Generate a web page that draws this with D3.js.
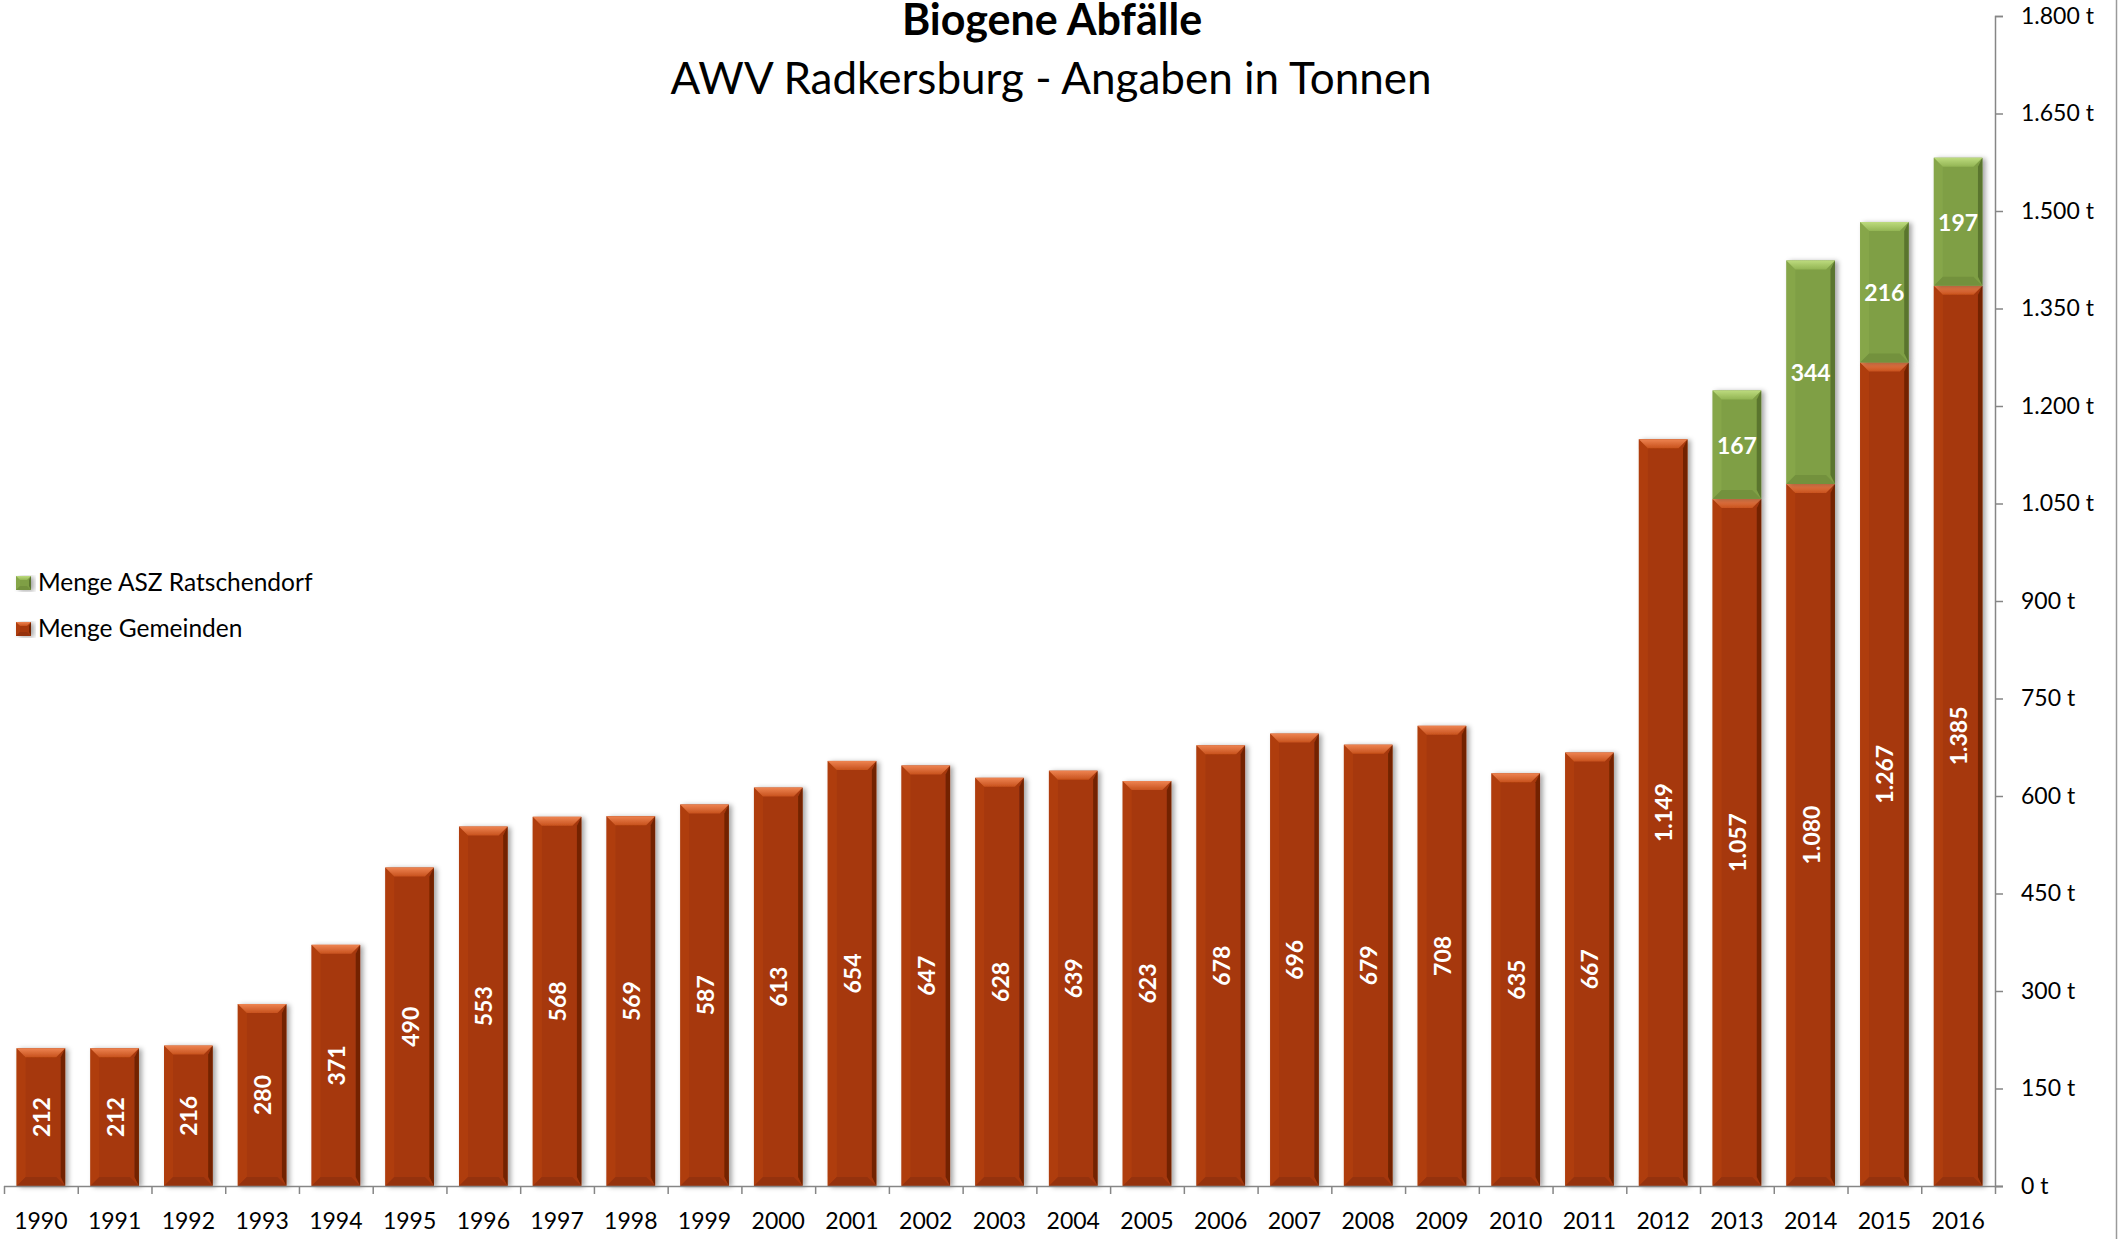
<!DOCTYPE html>
<html>
<head>
<meta charset="utf-8">
<script src="https://cdn.jsdelivr.net/npm/d3@7"></script>
<style>
	body { margin: 0; background: #fff; }
	svg { display: block; font-family: Lato, "Open Sans", sans-serif; }
</style>
</head>
<body>
<svg id="chart"></svg>
<script>
// data
var years = ["1990","1991","1992","1993","1994","1995","1996","1997","1998","1999","2000","2001","2002","2003","2004","2005","2006","2007","2008","2009","2010","2011","2012","2013","2014","2015","2016"]
var mengeGemeinden = [212,212,216,280,371,490,553,568,569,587,613,654,647,628,639,623,678,696,679,708,635,667,1149,1057,1080,1267,1385]
var mengeASZ = [0,0,0,0,0,0,0,0,0,0,0,0,0,0,0,0,0,0,0,0,0,0,0,167,344,216,197]
var yTicks = [0,150,300,450,600,750,900,1050,1200,1350,1500,1650,1800]
var seriesNames = ["Menge ASZ Ratschendorf", "Menge Gemeinden"]

var width = 2124
var height = 1239

var red = {main: "#a6380a", top1: "#ee8452", top2: "#c8521d", left: "#b6430f", right: "#5e1d04", bottom: "#8a2d07"}
var green = {main: "#7f9f45", top1: "#bddb7e", top2: "#93b554", left: "#8aab4d", right: "#4a6223", bottom: "#6a8838"}

var de = d3.formatLocale({decimal: ",", thousands: ".", grouping: [3], currency: ["", " €"]})
var fmt = de.format(",d")

var rows = years.map((yr, i) => ({year: yr, gem: mengeGemeinden[i], asz: mengeASZ[i]}))
var stacked = d3.stack().keys(["gem", "asz"])(rows)

var x = d3.scaleBand()
	.domain(years)
	.range([4, 1995])
	.paddingInner(0.34)
	.paddingOuter(0.17)

var y = d3.scaleLinear()
	.domain([0, 1800])
	.range([1186, 16])

var svg = d3.select("#chart")
	.attr("width", width)
	.attr("height", height)
	.attr("viewBox", [0, 0, width, height])

var defs = svg.append("defs")

var shadow = defs.append("filter").attr("id", "shadow")
	.attr("x", "-20%").attr("y", "-5%").attr("width", "150%").attr("height", "115%")
shadow.append("feDropShadow")
	.attr("dx", 3).attr("dy", 1).attr("stdDeviation", 2.5)
	.attr("flood-color", "#000").attr("flood-opacity", 0.35)

function topGrad(id, c) {
	var g = defs.append("linearGradient").attr("id", id)
		.attr("x1", 0).attr("y1", 0).attr("x2", 0).attr("y2", 1)
	g.append("stop").attr("offset", "0%").attr("stop-color", c.top1)
	g.append("stop").attr("offset", "100%").attr("stop-color", c.top2)
}
topGrad("topRed", red)
topGrad("topGreen", green)

// bevelled block like the excel bars
function bevelBox(g, bx, by, bw, bh, c, gradId, b) {
	var box = g.append("g").attr("filter", "url(#shadow)")
	box.append("rect")
		.attr("x", bx).attr("y", by).attr("width", bw).attr("height", bh)
		.attr("fill", c.main)
	box.append("polygon")
		.attr("points", [[bx, by], [bx + b, by + b], [bx + b, by + bh - b], [bx, by + bh]].join(" "))
		.attr("fill", c.left).attr("opacity", 0.6)
	box.append("polygon")
		.attr("points", [[bx + bw, by], [bx + bw - b * 0.5, by + b], [bx + bw - b * 0.5, by + bh - b], [bx + bw, by + bh]].join(" "))
		.attr("fill", c.right).attr("opacity", 0.7)
	box.append("polygon")
		.attr("points", [[bx, by + bh], [bx + b, by + bh - b], [bx + bw - b, by + bh - b], [bx + bw, by + bh]].join(" "))
		.attr("fill", c.bottom).attr("opacity", 0.6)
	box.append("polygon")
		.attr("points", [[bx, by], [bx + bw, by], [bx + bw - b, by + b], [bx + b, by + b]].join(" "))
		.attr("fill", "url(#" + gradId + ")")
}

// right border of the chart area
svg.append("line")
	.attr("x1", 2116.5).attr("x2", 2116.5).attr("y1", 0).attr("y2", height)
	.attr("stroke", "#9a9a9a").attr("stroke-width", 1.5)

// bars
var barLayer = svg.append("g")
stacked.forEach(layer => {
	var c = layer.key === "gem" ? red : green
	var gid = layer.key === "gem" ? "topRed" : "topGreen"
	layer.forEach(d => {
		if (d[1] - d[0] <= 0) return
		var y0 = y(d[1]), h = y(d[0]) - y(d[1])
		bevelBox(barLayer, x(d.data.year), y0, x.bandwidth(), h, c, gid, 9)
	})
})

// value labels
var labelLayer = svg.append("g")
	.attr("fill", "#fff").attr("font-weight", "bold").attr("font-size", 23)
	.attr("text-anchor", "middle")

labelLayer.selectAll("text.gem")
	.data(stacked[0])
	.join("text")
	.attr("class", "gem")
	.attr("dominant-baseline", "central")
	.attr("transform", d => `translate(${x(d.data.year) + x.bandwidth() / 2},${(y(d[0]) + y(d[1])) / 2}) rotate(-90)`)
	.text(d => fmt(d.data.gem))

labelLayer.selectAll("text.asz")
	.data(stacked[1].filter(d => d.data.asz > 0))
	.join("text")
	.attr("class", "asz")
	.attr("dominant-baseline", "central")
	.attr("x", d => x(d.data.year) + x.bandwidth() / 2)
	.attr("y", d => (y(d[0]) + y(d[1])) / 2)
	.text(d => fmt(d.data.asz))

// x axis
var xAxis = svg.append("g")
	.attr("transform", `translate(0,${y(0)})`)
	.call(d3.axisBottom(x).tickSize(0).tickPadding(27))
xAxis.select(".domain").remove()
xAxis.selectAll("text").attr("font-size", 23).attr("font-family", "Lato, 'Open Sans', sans-serif").attr("fill", "#000")
xAxis.append("line")
	.attr("x1", 4).attr("x2", 2003).attr("y1", 0.5).attr("y2", 0.5)
	.attr("stroke", "#868686").attr("stroke-width", 1.5)
xAxis.selectAll("line.bound")
	.data(years.concat(["end"]))
	.join("line")
	.attr("class", "bound")
	.attr("x1", (d, i) => x.range()[0] + i * x.step() + 0.5)
	.attr("x2", (d, i) => x.range()[0] + i * x.step() + 0.5)
	.attr("y1", 0).attr("y2", 8)
	.attr("stroke", "#868686").attr("stroke-width", 1.5)

// y axis on the right
var yAxis = svg.append("g")
	.attr("transform", "translate(1995,0)")
	.call(d3.axisRight(y).tickValues(yTicks).tickSize(8).tickPadding(18).tickFormat(d => fmt(d) + " t"))
yAxis.selectAll("line,path").attr("stroke", "#868686").attr("stroke-width", 1.5)
yAxis.selectAll("text").attr("font-size", 23).attr("font-family", "Lato, 'Open Sans', sans-serif").attr("fill", "#000")

// title
svg.append("text")
	.attr("x", 1052).attr("y", 35)
	.attr("text-anchor", "middle")
	.attr("font-weight", "bold").attr("font-size", 43)
	.text("Biogene Abfälle")
svg.append("text")
	.attr("x", 1051).attr("y", 94)
	.attr("text-anchor", "middle")
	.attr("font-size", 44)
	.text("AWV Radkersburg - Angaben in Tonnen")

// legend
var legend = svg.append("g")
seriesNames.forEach((name, i) => {
	var c = i === 0 ? green : red
	var gid = i === 0 ? "topGreen" : "topRed"
	bevelBox(legend, 16, 576 + i * 46, 15, 14, c, gid, 4)
	legend.append("text")
		.attr("x", 38).attr("y", 591 + i * 46)
		.attr("font-size", 24.5)
		.text(name)
})
</script>
</body>
</html>
